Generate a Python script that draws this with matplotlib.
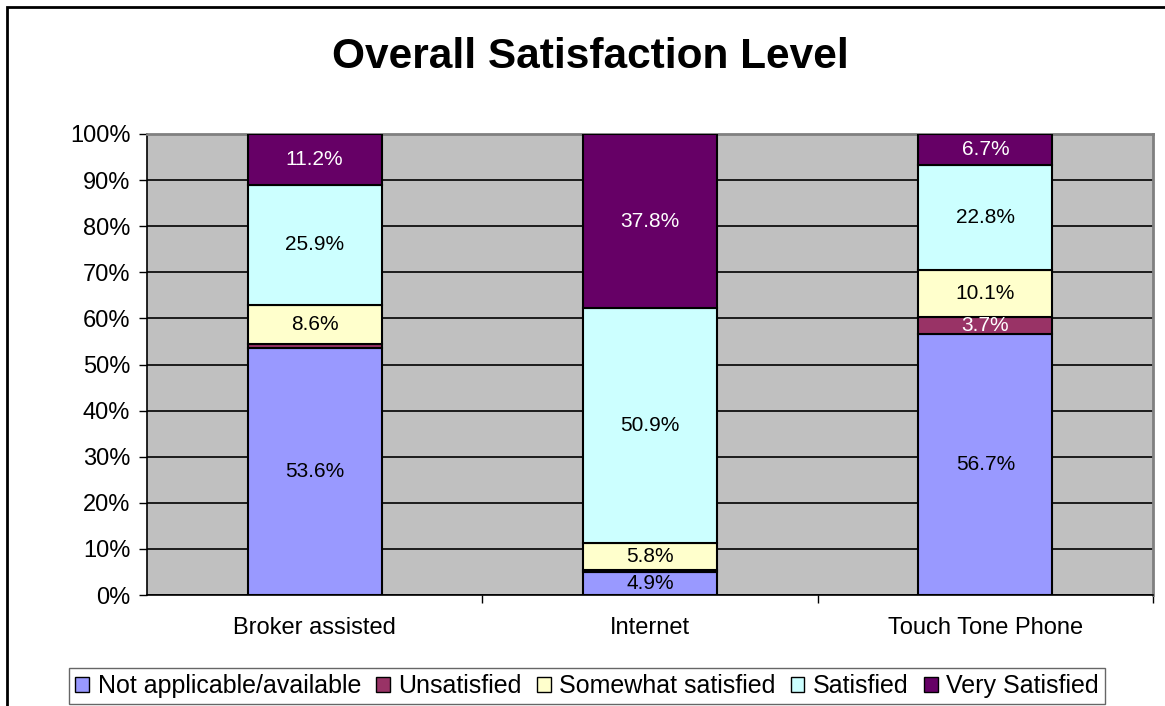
import matplotlib
matplotlib.use("Agg")
import matplotlib.pyplot as plt
from matplotlib.patches import Rectangle, Patch
import numpy as np

categories = ["Broker assisted", "Internet", "Touch Tone Phone"]
series_names = ["Not applicable/available", "Unsatisfied", "Somewhat satisfied",
                "Satisfied", "Very Satisfied"]
not_applicable = [53.6, 4.9, 56.7]
unsatisfied = [0.8, 0.6, 3.7]
somewhat = [8.6, 5.8, 10.1]
satisfied = [25.9, 50.9, 22.8]
very_satisfied = [11.2, 37.8, 6.7]
shown_labels = [[True, True, True], [False, False, True], [True, True, True],
                [True, True, True], [True, True, True]]

colors = ["#9999FF", "#993366", "#FFFFCC", "#CCFFFF", "#660066"]
text_colors = ["black", "white", "black", "black", "white"]

plt.rcParams['font.family'] = ['Liberation Sans', 'DejaVu Sans']

W, H = 1165, 706
fig = plt.figure(figsize=(W / 100, H / 100), dpi=100)
fig.patch.set_facecolor("white")

# outer chart border (left and top visible)
fig.add_artist(Rectangle((7 / W, -0.1), 1.2, 1 - 7 / H + 0.1, transform=fig.transFigure,
                         fill=False, edgecolor="black", linewidth=2))

ax = fig.add_axes([147 / W, 1 - 595 / H, (1153 - 147) / W, (595 - 134) / H])
ax.set_facecolor("#C0C0C0")

series = [not_applicable, unsatisfied, somewhat, satisfied, very_satisfied]
x = np.arange(len(categories))
bottom = np.zeros(len(categories))
for i, vals in enumerate(series):
    vals = np.array(vals)
    bars = ax.bar(x, vals, width=0.40, bottom=bottom, color=colors[i],
                  edgecolor="black", linewidth=1.5, zorder=3)
    for j, b in enumerate(bars):
        if shown_labels[i][j]:
            ax.text(x[j], bottom[j] + vals[j] / 2, f"{vals[j]:.1f}%",
                    ha="center", va="center", fontsize=15, color=text_colors[i], zorder=4)
    bottom = bottom + vals

ax.set_xlim(-0.5, 2.5)
ax.set_ylim(0, 100)
ax.set_yticks(np.arange(0, 101, 10))
ax.set_yticklabels([f"{v}%" for v in range(0, 101, 10)], fontsize=17)
ax.yaxis.grid(True, color="black", linewidth=1.2, zorder=1)
ax.set_axisbelow(True)
ax.set_xticks(x)
ax.set_xticklabels(categories, fontsize=17)
ax.tick_params(axis="x", length=0, pad=16)
ax.set_xticks([0.5, 1.5, 2.5], minor=True)
ax.tick_params(axis="x", which="minor", length=6, width=1, color="black")
ax.tick_params(axis="y", length=6, width=1, pad=6)
for side in ["top", "right"]:
    ax.spines[side].set_color("#808080")
    ax.spines[side].set_linewidth(2)
for side in ["left", "bottom"]:
    ax.spines[side].set_color("black")
    ax.spines[side].set_linewidth(1.2)

fig.text(590 / W, 1 - 57 / H, "Overall Satisfaction Level", ha="center", va="center",
         fontsize=30.5, fontweight="bold")

handles = [Patch(facecolor=c, edgecolor="black", linewidth=1) for c in colors]
leg = fig.legend(handles, series_names, loc="center", bbox_to_anchor=(587 / W, 1 - 686 / H),
                 ncol=5, frameon=True, fontsize=18, handlelength=0.55, handleheight=0.55,
                 handletextpad=0.35, columnspacing=0.6, borderpad=0.25, fancybox=False)
leg.get_frame().set_edgecolor("#404040")
leg.get_frame().set_linewidth(1)

fig.savefig("out.png", dpi=100)
